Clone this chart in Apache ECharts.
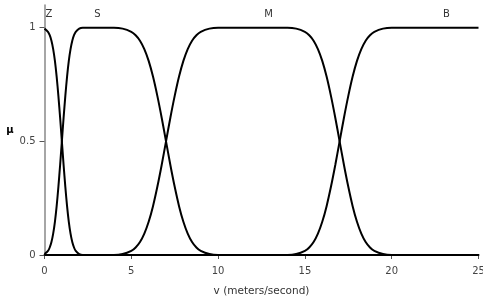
<!DOCTYPE html>
<html>
<head>
<meta charset="utf-8">
<script src="https://cdn.jsdelivr.net/npm/echarts@6/dist/echarts.min.js"></script>
<style>
  html, body { margin: 0; padding: 0; background: #fff; }
  #chart { width: 483px; height: 296px; }
</style>
</head>
<body>
<div id="chart"></div>
<script>
// membership values, [v, mu]
var zData = [[0, 0.996], [0.2, 0.982], [0.3, 0.967], [0.4, 0.943], [0.5, 0.906], [0.6, 0.854],
    [0.7, 0.785], [0.8, 0.70], [0.9, 0.604], [1.0, 0.5], [1.1, 0.396], [1.2, 0.30], [1.3, 0.215],
    [1.4, 0.146], [1.5, 0.094], [1.6, 0.057], [1.7, 0.033], [1.8, 0.018], [2.0, 0.004], [2.2, 0],
    [25, 0]];
var sData = [[0, 0.004], [0.2, 0.018], [0.3, 0.033], [0.4, 0.057], [0.5, 0.094], [0.6, 0.146],
    [0.7, 0.215], [0.8, 0.30], [0.9, 0.396], [1.0, 0.5], [1.1, 0.604], [1.2, 0.70], [1.3, 0.785],
    [1.4, 0.854], [1.5, 0.906], [1.6, 0.943], [1.7, 0.967], [1.8, 0.982], [2.0, 0.996], [2.2, 1],
    [4.0, 1], [4.5, 0.996], [5.0, 0.982], [5.25, 0.967], [5.5, 0.943], [5.75, 0.906], [6.0, 0.854],
    [6.25, 0.785], [6.5, 0.70], [6.75, 0.604], [7.0, 0.5], [7.25, 0.396], [7.5, 0.30], [7.75, 0.215],
    [8.0, 0.146], [8.25, 0.094], [8.5, 0.057], [8.75, 0.033], [9.0, 0.018], [9.5, 0.004], [10.0, 0],
    [25, 0]];
var mData = [[0, 0], [4.0, 0], [4.5, 0.004], [5.0, 0.018], [5.25, 0.033], [5.5, 0.057], [5.75, 0.094],
    [6.0, 0.146], [6.25, 0.215], [6.5, 0.30], [6.75, 0.396], [7.0, 0.5], [7.25, 0.604], [7.5, 0.70],
    [7.75, 0.785], [8.0, 0.854], [8.25, 0.906], [8.5, 0.943], [8.75, 0.967], [9.0, 0.982], [9.5, 0.996],
    [10.0, 1], [14.0, 1], [14.5, 0.996], [15.0, 0.982], [15.25, 0.967], [15.5, 0.943], [15.75, 0.906],
    [16.0, 0.854], [16.25, 0.785], [16.5, 0.70], [16.75, 0.604], [17.0, 0.5], [17.25, 0.396],
    [17.5, 0.30], [17.75, 0.215], [18.0, 0.146], [18.25, 0.094], [18.5, 0.057], [18.75, 0.033],
    [19.0, 0.018], [19.5, 0.004], [20.0, 0], [25, 0]];
var bData = [[0, 0], [14.0, 0], [14.5, 0.004], [15.0, 0.018], [15.25, 0.033], [15.5, 0.057],
    [15.75, 0.094], [16.0, 0.146], [16.25, 0.215], [16.5, 0.30], [16.75, 0.396], [17.0, 0.5],
    [17.25, 0.604], [17.5, 0.70], [17.75, 0.785], [18.0, 0.854], [18.25, 0.906], [18.5, 0.943],
    [18.75, 0.967], [19.0, 0.982], [19.5, 0.996], [20.0, 1], [25, 1]];

var seriesNames = ['Z', 'S', 'M', 'B'];
var seriesData = [zData, sData, mData, bData];
var labelAt = [[0.25, 1.06], [3.05, 1.06], [12.9, 1.06], [23.15, 1.06]];
var yTicks = [0, 0.5, 1];

var myChart = echarts.init(document.getElementById('chart'));

var font = 'DejaVu Sans';
var series = [];
for (var i = 0; i < seriesNames.length; i++) {
    series.push({
        name: seriesNames[i],
        type: 'line',
        data: seriesData[i],
        smooth: 0.3,
        showSymbol: false,
        lineStyle: { color: '#000', width: 2 },
        silent: true,
        markPoint: {
            symbol: 'circle',
            symbolSize: 1,
            silent: true,
            itemStyle: { color: 'rgba(0,0,0,0)' },
            label: {
                show: true,
                position: 'inside',
                formatter: seriesNames[i],
                color: '#333',
                fontSize: 10,
                fontFamily: font
            },
            data: [{ coord: labelAt[i] }]
        }
    });
}

var option = {
    animation: false,
    grid: { left: 44.5, right: 4.5, top: 5, bottom: 41, outerBoundsMode: 'none' },
    xAxis: {
        type: 'value',
        min: 0,
        max: 25,
        interval: 5,
        name: 'v (meters/second)',
        nameLocation: 'middle',
        nameGap: 31,
        nameTextStyle: { color: '#333', fontSize: 10.5, fontFamily: font },
        axisLine: { lineStyle: { color: '#000', width: 2 } },
        axisTick: { length: 4, lineStyle: { color: '#555' } },
        axisLabel: { color: '#444', fontSize: 10, fontFamily: font, margin: 11 },
        splitLine: { show: false }
    },
    yAxis: {
        type: 'value',
        min: 0,
        max: 1.1,
        name: 'μ',
        nameLocation: 'middle',
        nameRotate: 0,
        nameGap: 29,
        nameTextStyle: { color: '#000', fontSize: 10, fontWeight: 'bold', fontFamily: font, padding: [0, 0, 16, 0] },
        axisLine: { show: true, lineStyle: { color: '#888', width: 1.5 } },
        axisTick: { show: true, length: 5, customValues: yTicks, lineStyle: { color: '#555' } },
        axisLabel: { color: '#444', fontSize: 10, fontFamily: font, margin: 9, customValues: yTicks },
        splitLine: { show: false }
    },
    series: series
};

myChart.setOption(option);
</script>
</body>
</html>
